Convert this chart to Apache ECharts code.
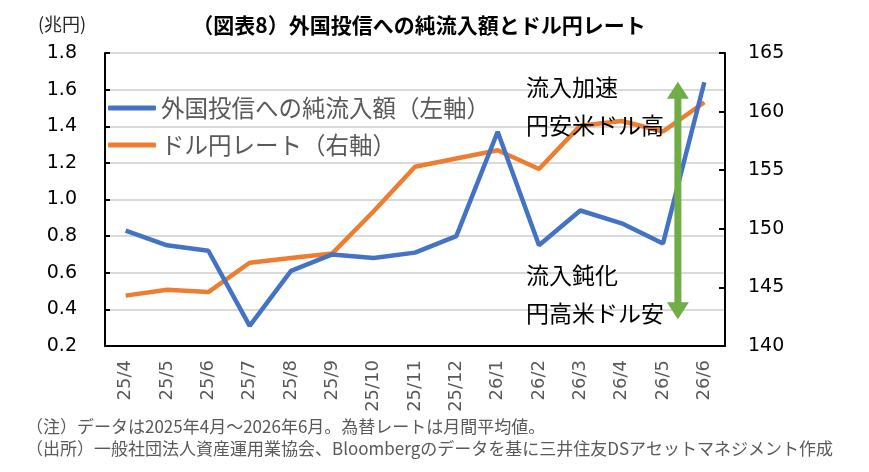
<!DOCTYPE html>
<html>
<head>
<meta charset="utf-8">
<script src="https://cdn.jsdelivr.net/npm/echarts@6/dist/echarts.min.js"></script>
<style>
  html, body { margin: 0; padding: 0; background: #fff; }
  #chart { width: 869px; height: 472px; }
</style>
</head>
<body>
<div id="chart"></div>
<script>
// データ
const months = ['25/4', '25/5', '25/6', '25/7', '25/8', '25/9', '25/10', '25/11', '25/12',
  '26/1', '26/2', '26/3', '26/4', '26/5', '26/6'];
const netInflow = [0.83, 0.75, 0.72, 0.31, 0.61, 0.70, 0.68, 0.71, 0.80, 1.37, 0.75, 0.94, 0.87, 0.76, 1.64];
const usdJpy = [144.3, 144.8, 144.6, 147.1, 147.5, 147.9, 151.5, 155.3, 156.0, 156.7, 155.1, 158.8, 159.2, 158.3, 160.8];
const leftRange = [0.2, 1.8, 0.2];
const rightRange = [140, 165, 5];
const seriesNames = ['外国投信への純流入額（左軸）', 'ドル円レート（右軸）'];
const notesUp = ['流入加速', '円安米ドル高'];
const notesDown = ['流入鈍化', '円高米ドル安'];
const footNotes = [
  '（注）データは2025年4月～2026年6月。為替レートは月間平均値。',
  '（出所）一般社団法人資産運用業協会、Bloombergのデータを基に三井住友DSアセットマネジメント作成'
];
// 矢印の位置（左軸の値）
const arrowTop = 1.643;
const arrowBottom = 0.346;

const JP = '"Noto Sans CJK JP", sans-serif';
const NUM = '"DejaVu Sans", sans-serif';
const green = '#70AD47';

const chart = echarts.init(document.getElementById('chart'));

let option = {
  backgroundColor: '#fff',
  animation: false,
  textStyle: { fontFamily: JP },
  title: {
    text: '（図表8）外国投信への純流入額とドル円レート',
    left: 414, top: 10, textAlign: 'center',
    textStyle: { fontSize: 21, fontWeight: 'bold', color: '#000', fontFamily: JP }
  },
  grid: {
    left: 105, right: 144, top: 53, bottom: 126,
    show: true, borderColor: '#000', borderWidth: 1, backgroundColor: 'transparent'
  },
  legend: {
    orient: 'vertical',
    left: 108, top: 96, padding: 0,
    itemWidth: 48, itemHeight: 5, itemGap: 13,
    icon: 'roundRect',
    textStyle: { fontSize: 23.5, color: '#595959', lineHeight: 24, fontFamily: JP },
    data: seriesNames
  },
  xAxis: {
    type: 'category',
    data: months,
    boundaryGap: true,
    axisLine: { lineStyle: { color: '#000', width: 2 } },
    axisTick: { inside: true, length: 7, lineStyle: { color: '#000', width: 2 } },
    axisLabel: { rotate: 90, margin: 14, fontSize: 18, color: '#595959', fontFamily: NUM, interval: 0 }
  },
  yAxis: [{
    type: 'value',
    min: leftRange[0], max: leftRange[1], interval: leftRange[2],
    axisLine: { show: true, lineStyle: { color: '#000', width: 2 } },
    axisTick: { show: true, inside: true, length: 5, lineStyle: { color: '#000', width: 2 } },
    axisLabel: { fontSize: 19, color: '#000', margin: 28, fontFamily: NUM, formatter: v => v.toFixed(1) },
    splitLine: { show: true, lineStyle: { color: '#d9d9d9', width: 2 } }
  }, {
    type: 'value',
    min: rightRange[0], max: rightRange[1], interval: rightRange[2],
    axisLine: { show: true, lineStyle: { color: '#000', width: 2 } },
    axisTick: { show: true, inside: true, length: 6, lineStyle: { color: '#000', width: 2 } },
    axisLabel: { fontSize: 19, color: '#000', margin: 23, fontFamily: NUM },
    splitLine: { show: false }
  }],
  series: [{
    name: seriesNames[0],
    type: 'line',
    yAxisIndex: 0,
    data: netInflow,
    symbol: 'none',
    lineStyle: { color: '#4472C4', width: 4.5 },
    itemStyle: { color: '#4472C4' },
    z: 3
  }, {
    name: seriesNames[1],
    type: 'line',
    yAxisIndex: 1,
    data: usdJpy,
    symbol: 'none',
    lineStyle: { color: '#ED7D31', width: 4.5 },
    itemStyle: { color: '#ED7D31' },
    z: 2
  }]
};
chart.setOption(option);

// 矢印と注記
const p13 = chart.convertToPixel({ xAxisIndex: 0, yAxisIndex: 0 }, [13, arrowTop]);
const p14 = chart.convertToPixel({ xAxisIndex: 0, yAxisIndex: 0 }, [14, arrowBottom]);
const ax = p13[0] + (p14[0] - p13[0]) * 0.36;
const ay1 = p13[1];
const ay2 = p14[1];
const headW = 11, headH = 17;

const graphics = [
  {
    type: 'line', z: 10,
    shape: { x1: ax, y1: ay1 + headH - 1, x2: ax, y2: ay2 - headH + 1 },
    style: { stroke: green, lineWidth: 7 }
  },
  {
    type: 'polygon', z: 10,
    shape: { points: [[ax, ay1], [ax - headW, ay1 + headH], [ax + headW, ay1 + headH]] },
    style: { fill: green }
  },
  {
    type: 'polygon', z: 10,
    shape: { points: [[ax, ay2], [ax - headW, ay2 - headH], [ax + headW, ay2 - headH]] },
    style: { fill: green }
  },
  {
    type: 'text', left: 38, top: 15, z: 10,
    style: { text: '(兆円)', fontSize: 18, fill: '#262626', fontFamily: JP }
  }
];
const noteTops = [76, 114, 264, 302];
[...notesUp, ...notesDown].forEach((t, i) => {
  graphics.push({
    type: 'text', left: 526, top: noteTops[i], z: 9,
    style: { text: t, fontSize: 23, fill: '#000', fontFamily: JP }
  });
});
footNotes.forEach((t, i) => {
  graphics.push({
    type: 'text', left: 26, top: 418 + i * 22, z: 10,
    style: { text: t, fontSize: 17, fill: '#595959', fontFamily: JP }
  });
});
chart.setOption({ graphic: graphics });
</script>
</body>
</html>
